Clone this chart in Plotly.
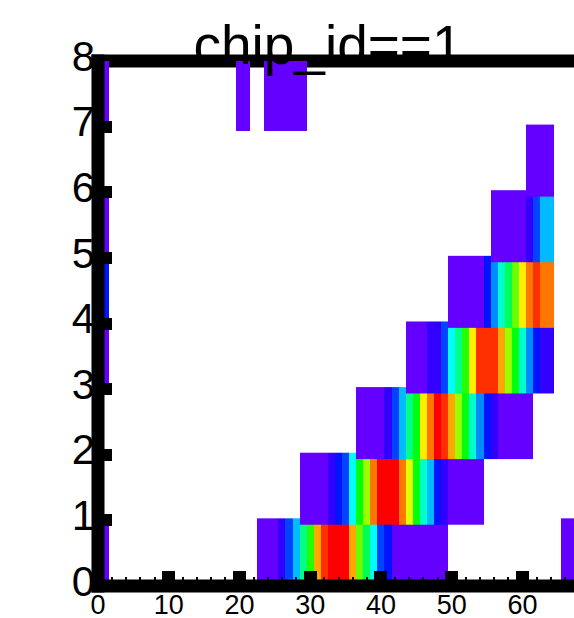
import plotly.graph_objects as go

# Chip columns (bin centres) and pixel rows
columns = list(range(0, 68))
rows = list(range(0, 8))

# Hit counts per pixel row, stored as runs: (first column, counts along the row)
row0_runs = [(1, [1]),
             (23, [1, 1, 1, 3, 7, 11, 17, 23, 33, 37, 39, 39, 40, 33, 25, 19, 13, 7, 5,
                   1, 1, 1, 1, 1, 1, 1, 1]),
             (66, [1, 1])]
row1_runs = [(29, [1, 1, 1, 1, 3, 5, 7, 13, 21, 27, 35, 39, 39, 39, 35, 29, 21, 15, 11, 5, 3,
                   1, 1, 1, 1, 1])]
row2_runs = [(37, [1, 1, 1, 1, 3, 7, 11, 17, 21, 31, 35, 39, 37, 33, 27, 21, 15, 9, 5, 3,
                   1, 1, 1, 1, 1])]
row3_runs = [(1, [1]),
             (44, [1, 1, 1, 3, 3, 7, 13, 17, 23, 31, 37, 37, 37, 33, 27, 21, 15, 9, 5, 3, 3])]
row4_runs = [(1, [5]),
             (50, [1, 1, 1, 1, 1, 5, 9, 15, 19, 25, 31, 35, 37, 35, 35])]
row5_runs = [(1, [1]), (56, [1, 1, 1, 1, 1, 3, 7, 11, 11])]
row6_runs = [(61, [1, 1, 1, 1])]
row7_runs = [(1, [1]), (20, [1, 1]), (24, [1, 1, 1, 1, 1, 1])]

x_ticks = [0, 10, 20, 30, 40, 50, 60]
y_ticks = [0, 1, 2, 3, 4, 5, 6, 7, 8]

# 20-level rainbow palette (violet -> red)
palette = ["#6300ff", "#3300ff", "#0014ff", "#0044ff", "#008bff",
           "#00bbff", "#00fffc", "#00ffcc", "#00ff85", "#00ff55",
           "#00ff0e", "#22ff00", "#69ff00", "#99ff00", "#e0ff00",
           "#ffee00", "#ffa700", "#ff7700", "#ff3000", "#ff0000"]
z_max = 40

colorscale = []
n = len(palette)
for k, c in enumerate(palette):
    colorscale.append([k / n, c])
    colorscale.append([(k + 1) / n, c])

all_runs = [row0_runs, row1_runs, row2_runs, row3_runs,
            row4_runs, row5_runs, row6_runs, row7_runs]

x_edges = [c - 0.5 for c in columns] + [columns[-1] + 0.5]

# each row is drawn slightly taller than its bin; upper rows overlap lower ones
ext_low, ext_high = 0.072, 0.031

fig = go.Figure()
for j, runs in zip(rows, all_runs):
    zrow = [None] * len(columns)
    for start, counts in runs:
        for i, v in enumerate(counts):
            zrow[columns.index(start + i)] = v
    fig.add_trace(go.Heatmap(
        x=x_edges,
        y=[j - ext_low, j + 1 + ext_high],
        z=[zrow],
        coloraxis="coloraxis",
        hoverinfo="skip",
    ))

W, H = 574, 618
ml, mr, mt, mb = 98, 0, 61, 32
plot_w = W - ml - mr
plot_h = H - mt - mb
px_per_col = 7.074

font_family = "Liberation Sans, Arial, Helvetica, sans-serif"
lw = 13
hx = (lw / 2) / plot_w
hy = (lw / 2) / plot_h

shapes = [
    # top frame edge (under the cells)
    dict(type="line", xref="paper", yref="paper", x0=-hx, x1=1.1, y0=1, y1=1,
         line=dict(color="black", width=lw), layer="below"),
    # y axis line
    dict(type="line", xref="paper", yref="paper", x0=0, x1=0, y0=-hy, y1=1 + hy,
         line=dict(color="black", width=lw), layer="above"),
    # x axis line
    dict(type="line", xref="paper", yref="paper", x0=-hx, x1=1.1, y0=0, y1=0,
         line=dict(color="black", width=lw), layer="above"),
]

fig.update_layout(
    width=W, height=H,
    margin=dict(l=ml, r=mr, t=mt, b=mb, pad=0, autoexpand=False),
    paper_bgcolor="white", plot_bgcolor="white",
    showlegend=False,
    coloraxis=dict(colorscale=colorscale, cmin=0, cmax=z_max, showscale=False),
    title=dict(text="chip_id==1", x=328.0 / W, xref="container", xanchor="center",
               y=1 - 63.5 / H, yref="container", yanchor="bottom",
               pad=dict(t=0, b=0, l=0, r=0), automargin=False,
               font=dict(family=font_family, size=55, color="black")),
    xaxis=dict(range=[0, plot_w / px_per_col], showline=False, zeroline=False,
               showgrid=False, automargin=False, tickmode="array", tickvals=x_ticks,
               ticktext=[str(v) for v in x_ticks],
               ticks="inside", ticklen=15, tickwidth=13, tickcolor="black",
               tickfont=dict(family=font_family, size=27, color="black"),
               ticklabelstandoff=0,
               minor=dict(dtick=2, tick0=0, ticks="inside", ticklen=9, tickwidth=2,
                          tickcolor="black", showgrid=False)),
    yaxis=dict(range=[0, 8], showline=False, zeroline=False, showgrid=False,
               automargin=False,
               tickmode="array", tickvals=y_ticks, ticktext=[str(v) for v in y_ticks],
               ticks="inside", ticklen=14, tickwidth=12, tickcolor="black",
               tickfont=dict(family=font_family, size=42, color="black"),
               ticklabelshift=-5, ticklabelstandoff=2),
    shapes=shapes,
)

fig.write_html("out.html", config={"displayModeBar": False})
